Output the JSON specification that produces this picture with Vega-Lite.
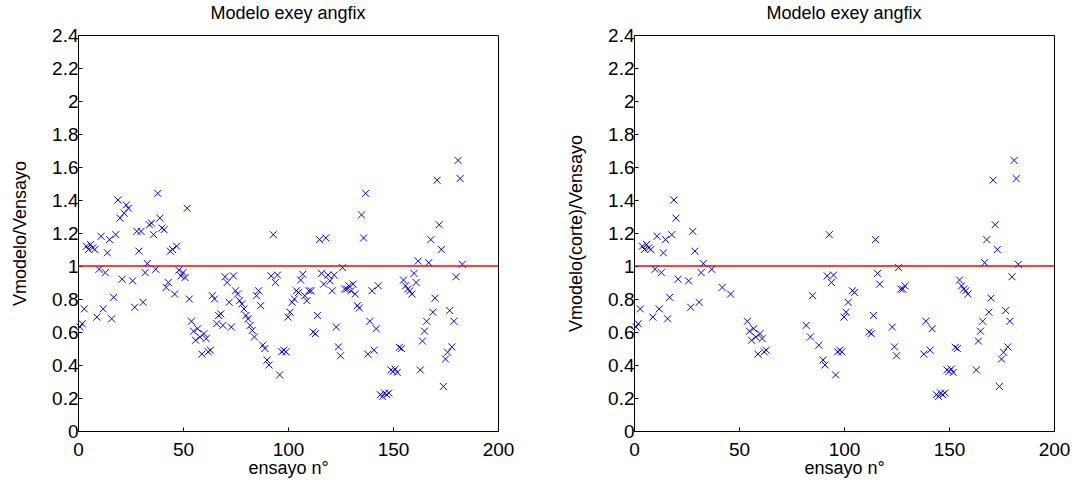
{
  "$schema": "https://vega.github.io/schema/vega-lite/v6.json",
  "background": "white",
  "padding": {"left": 11, "top": 4, "right": 5, "bottom": 0},
  "bounds": "flush",
  "spacing": 136,
  "config": {
    "font": "Liberation Sans",
    "view": {"stroke": "#000000", "strokeWidth": 1},
    "axis": {
      "grid": false,
      "domainColor": "#000000",
      "tickColor": "#000000",
      "tickSize": -4,
      "labelColor": "#000000",
      "labelFontSize": 19,
      "labelOverlap": false,
      "labelFlush": false,
      "titleColor": "#000000",
      "titleFontSize": 18,
      "titleFontWeight": "normal"
    },
    "axisX": {"labelPadding": 13, "titlePadding": 0},
    "axisY": {"labelPadding": 4, "titlePadding": 22},
    "title": {"fontSize": 18, "fontWeight": "normal", "color": "#000000", "offset": 3}
  },
  "datasets": {
    "d": [
      {"n": 1, "v": 0.63, "c": 1}, {"n": 2, "v": 0.65, "c": 1}, {"n": 3, "v": 0.74, "c": 1},
      {"n": 4, "v": 1.12, "c": 1}, {"n": 5, "v": 1.1, "c": 1}, {"n": 6, "v": 1.13, "c": 1},
      {"n": 7, "v": 1.11, "c": 1}, {"n": 8, "v": 1.1, "c": 1}, {"n": 9, "v": 0.69, "c": 1},
      {"n": 10, "v": 0.98, "c": 1}, {"n": 11, "v": 1.18, "c": 1}, {"n": 12, "v": 0.74, "c": 1},
      {"n": 13, "v": 0.96, "c": 1}, {"n": 14, "v": 1.08, "c": 1}, {"n": 15, "v": 1.16, "c": 1},
      {"n": 16, "v": 0.68, "c": 1}, {"n": 17, "v": 0.81, "c": 1}, {"n": 18, "v": 1.19, "c": 1},
      {"n": 19, "v": 1.4, "c": 1}, {"n": 20, "v": 1.29, "c": 1}, {"n": 21, "v": 0.92, "c": 1},
      {"n": 22, "v": 1.32, "c": 0}, {"n": 23, "v": 1.37, "c": 0}, {"n": 24, "v": 1.35, "c": 0},
      {"n": 26, "v": 0.91, "c": 1}, {"n": 27, "v": 0.75, "c": 1}, {"n": 28, "v": 1.21, "c": 1},
      {"n": 29, "v": 1.09, "c": 1}, {"n": 30, "v": 1.21, "c": 0}, {"n": 31, "v": 0.78, "c": 1},
      {"n": 32, "v": 0.96, "c": 1}, {"n": 33, "v": 1.015, "c": 1}, {"n": 34, "v": 1.25, "c": 0},
      {"n": 35, "v": 1.26, "c": 0}, {"n": 36, "v": 1.19, "c": 0}, {"n": 37, "v": 0.98, "c": 1},
      {"n": 38, "v": 1.44, "c": 0}, {"n": 39, "v": 1.29, "c": 0}, {"n": 40, "v": 1.23, "c": 0},
      {"n": 41, "v": 1.22, "c": 0}, {"n": 42, "v": 0.87, "c": 1}, {"n": 43, "v": 0.9, "c": 0},
      {"n": 44, "v": 1.09, "c": 0}, {"n": 45, "v": 1.1, "c": 0}, {"n": 46, "v": 0.83, "c": 1},
      {"n": 47, "v": 1.12, "c": 0}, {"n": 48, "v": 0.975, "c": 0}, {"n": 49, "v": 0.94, "c": 0},
      {"n": 50, "v": 0.96, "c": 0}, {"n": 51, "v": 0.93, "c": 0}, {"n": 52, "v": 1.35, "c": 0},
      {"n": 53, "v": 0.8, "c": 0}, {"n": 54, "v": 0.665, "c": 1}, {"n": 55, "v": 0.605, "c": 1},
      {"n": 56, "v": 0.55, "c": 1}, {"n": 57, "v": 0.62, "c": 1}, {"n": 58, "v": 0.57, "c": 1},
      {"n": 59, "v": 0.466, "c": 1}, {"n": 60, "v": 0.59, "c": 1}, {"n": 61, "v": 0.56, "c": 1},
      {"n": 62, "v": 0.48, "c": 1}, {"n": 63, "v": 0.49, "c": 1}, {"n": 64, "v": 0.82, "c": 0},
      {"n": 65, "v": 0.8, "c": 0}, {"n": 66, "v": 0.65, "c": 0}, {"n": 67, "v": 0.7, "c": 0},
      {"n": 68, "v": 0.71, "c": 0}, {"n": 69, "v": 0.64, "c": 0}, {"n": 70, "v": 0.935, "c": 0},
      {"n": 71, "v": 0.9, "c": 0}, {"n": 72, "v": 0.78, "c": 0}, {"n": 73, "v": 0.63, "c": 0},
      {"n": 74, "v": 0.94, "c": 0}, {"n": 75, "v": 0.85, "c": 0}, {"n": 76, "v": 0.83, "c": 0},
      {"n": 77, "v": 0.79, "c": 0}, {"n": 78, "v": 0.77, "c": 0}, {"n": 79, "v": 0.74, "c": 0},
      {"n": 80, "v": 0.7, "c": 0}, {"n": 81, "v": 0.68, "c": 0}, {"n": 82, "v": 0.64, "c": 1},
      {"n": 83, "v": 0.61, "c": 0}, {"n": 84, "v": 0.57, "c": 1}, {"n": 85, "v": 0.82, "c": 1},
      {"n": 86, "v": 0.85, "c": 0}, {"n": 87, "v": 0.76, "c": 0}, {"n": 88, "v": 0.52, "c": 1},
      {"n": 89, "v": 0.5, "c": 0}, {"n": 90, "v": 0.43, "c": 1}, {"n": 91, "v": 0.4, "c": 1},
      {"n": 92, "v": 0.94, "c": 1}, {"n": 93, "v": 1.19, "c": 1}, {"n": 94, "v": 0.9, "c": 1},
      {"n": 95, "v": 0.945, "c": 1}, {"n": 96, "v": 0.34, "c": 1}, {"n": 97, "v": 0.48, "c": 1},
      {"n": 98, "v": 0.49, "c": 1}, {"n": 99, "v": 0.48, "c": 1}, {"n": 100, "v": 0.69, "c": 1},
      {"n": 101, "v": 0.72, "c": 1}, {"n": 102, "v": 0.78, "c": 1}, {"n": 103, "v": 0.8, "c": 0},
      {"n": 104, "v": 0.85, "c": 1}, {"n": 105, "v": 0.84, "c": 1}, {"n": 106, "v": 0.915, "c": 0},
      {"n": 107, "v": 0.95, "c": 0}, {"n": 108, "v": 0.82, "c": 0}, {"n": 109, "v": 0.79, "c": 0},
      {"n": 110, "v": 0.85, "c": 0}, {"n": 111, "v": 0.85, "c": 0}, {"n": 112, "v": 0.6, "c": 1},
      {"n": 113, "v": 0.59, "c": 1}, {"n": 114, "v": 0.7, "c": 1}, {"n": 115, "v": 1.16, "c": 1},
      {"n": 116, "v": 0.955, "c": 1}, {"n": 117, "v": 0.89, "c": 1}, {"n": 118, "v": 1.17, "c": 0},
      {"n": 119, "v": 0.945, "c": 0}, {"n": 120, "v": 0.91, "c": 0}, {"n": 121, "v": 0.85, "c": 0},
      {"n": 122, "v": 0.945, "c": 0}, {"n": 123, "v": 0.63, "c": 1}, {"n": 124, "v": 0.51, "c": 1},
      {"n": 125, "v": 0.456, "c": 1}, {"n": 126, "v": 0.99, "c": 1}, {"n": 127, "v": 0.86, "c": 1},
      {"n": 128, "v": 0.86, "c": 1}, {"n": 129, "v": 0.88, "c": 1}, {"n": 130, "v": 0.85, "c": 0},
      {"n": 131, "v": 0.89, "c": 0}, {"n": 132, "v": 0.83, "c": 0}, {"n": 133, "v": 0.76, "c": 0},
      {"n": 134, "v": 0.745, "c": 0}, {"n": 135, "v": 1.31, "c": 0}, {"n": 136, "v": 1.17, "c": 0},
      {"n": 137, "v": 1.44, "c": 0}, {"n": 138, "v": 0.466, "c": 1}, {"n": 139, "v": 0.665, "c": 1},
      {"n": 140, "v": 0.85, "c": 0}, {"n": 141, "v": 0.49, "c": 1}, {"n": 142, "v": 0.62, "c": 1},
      {"n": 143, "v": 0.88, "c": 0}, {"n": 144, "v": 0.22, "c": 1}, {"n": 145, "v": 0.21, "c": 1},
      {"n": 146, "v": 0.23, "c": 1}, {"n": 147, "v": 0.22, "c": 1}, {"n": 148, "v": 0.23, "c": 1},
      {"n": 149, "v": 0.37, "c": 1}, {"n": 150, "v": 0.36, "c": 1}, {"n": 151, "v": 0.375, "c": 1},
      {"n": 152, "v": 0.355, "c": 1}, {"n": 153, "v": 0.507, "c": 1}, {"n": 154, "v": 0.5, "c": 1},
      {"n": 155, "v": 0.915, "c": 1}, {"n": 156, "v": 0.88, "c": 1}, {"n": 157, "v": 0.86, "c": 1},
      {"n": 158, "v": 0.85, "c": 1}, {"n": 159, "v": 0.83, "c": 1}, {"n": 160, "v": 0.955, "c": 0},
      {"n": 161, "v": 0.9, "c": 0}, {"n": 162, "v": 1.03, "c": 0}, {"n": 163, "v": 0.37, "c": 1},
      {"n": 164, "v": 0.545, "c": 1}, {"n": 165, "v": 0.605, "c": 1}, {"n": 166, "v": 0.665, "c": 1},
      {"n": 167, "v": 1.02, "c": 1}, {"n": 168, "v": 1.16, "c": 1}, {"n": 169, "v": 0.72, "c": 1},
      {"n": 170, "v": 0.805, "c": 1}, {"n": 171, "v": 1.52, "c": 1}, {"n": 172, "v": 1.25, "c": 1},
      {"n": 173, "v": 1.1, "c": 1}, {"n": 174, "v": 0.27, "c": 1}, {"n": 175, "v": 0.436, "c": 1},
      {"n": 176, "v": 0.477, "c": 1}, {"n": 177, "v": 0.73, "c": 1}, {"n": 178, "v": 0.51, "c": 1},
      {"n": 179, "v": 0.665, "c": 1}, {"n": 180, "v": 0.935, "c": 1}, {"n": 181, "v": 1.64, "c": 1},
      {"n": 182, "v": 1.53, "c": 1}, {"n": 183, "v": 1.01, "c": 1}
    ],
    "ref": [{"r": 1}]
  },
  "hconcat": [
    {
      "width": 420,
      "height": 396,
      "title": "Modelo exey angfix",
      "layer": [
        {
          "data": {"name": "d"},
          "mark": {"type": "point", "shape": "M-1,-1L1,1M-1,1L1,-1", "filled": false, "stroke": "#0000ff", "strokeWidth": 1, "size": 49, "opacity": 1},
          "encoding": {
            "x": {"field": "n", "type": "quantitative", "scale": {"domain": [0, 200], "nice": false}, "axis": {"values": [0, 50, 100, 150, 200], "title": "ensayo n°", "labelOverlap": false}},
            "y": {"field": "v", "type": "quantitative", "scale": {"domain": [0, 2.4], "nice": false}, "axis": {"values": [0, 0.2, 0.4, 0.6, 0.8, 1, 1.2, 1.4, 1.6, 1.8, 2, 2.2, 2.4], "format": "~g", "title": "Vmodelo/Vensayo", "labelOverlap": false, "tickCount": 13}}
          }
        },
        {
          "data": {"name": "ref"},
          "mark": {"type": "rule", "color": "#ff0000", "strokeWidth": 1.3},
          "encoding": {"y": {"field": "r", "type": "quantitative"}}
        }
      ]
    },
    {
      "width": 420,
      "height": 396,
      "title": "Modelo exey angfix",
      "layer": [
        {
          "data": {"name": "d"},
          "transform": [{"filter": "datum.c == 1"}],
          "mark": {"type": "point", "shape": "M-1,-1L1,1M-1,1L1,-1", "filled": false, "stroke": "#0000ff", "strokeWidth": 1, "size": 49, "opacity": 1},
          "encoding": {
            "x": {"field": "n", "type": "quantitative", "scale": {"domain": [0, 200], "nice": false}, "axis": {"values": [0, 50, 100, 150, 200], "title": "ensayo n°", "labelOverlap": false}},
            "y": {"field": "v", "type": "quantitative", "scale": {"domain": [0, 2.4], "nice": false}, "axis": {"values": [0, 0.2, 0.4, 0.6, 0.8, 1, 1.2, 1.4, 1.6, 1.8, 2, 2.2, 2.4], "format": "~g", "title": "Vmodelo(corte)/Vensayo", "labelOverlap": false, "tickCount": 13}}
          }
        },
        {
          "data": {"name": "ref"},
          "mark": {"type": "rule", "color": "#ff0000", "strokeWidth": 1.3},
          "encoding": {"y": {"field": "r", "type": "quantitative"}}
        }
      ]
    }
  ]
}
